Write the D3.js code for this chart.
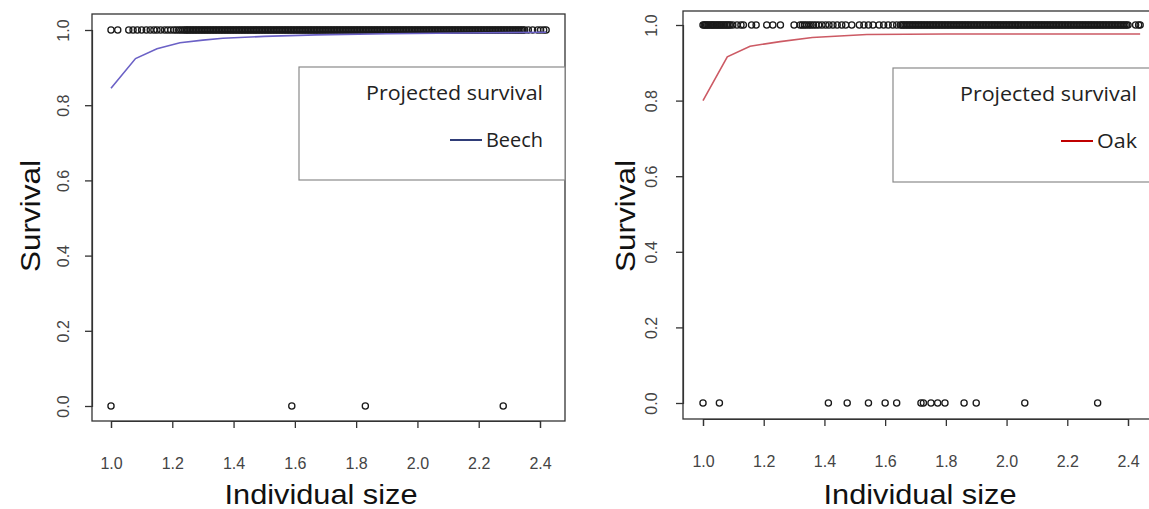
<!DOCTYPE html>
<html><head><meta charset="utf-8">
<script src="https://cdn.jsdelivr.net/npm/d3@7"></script>
<style>body{margin:0;background:#fff}svg{display:block}</style>
</head><body>
<svg id="chart" width="1149" height="509"></svg>
<script>
// ---- data ----
const xTicks = [1.0, 1.2, 1.4, 1.6, 1.8, 2.0, 2.2, 2.4];
const yTicks = [0.0, 0.2, 0.4, 0.6, 0.8, 1.0];
const legendTitle = "Projected survival";

// Beech: observed individuals that survived (y = 1) and died (y = 0)
const beechSurvived = [1.000,1.022,1.058,1.072,1.086,1.100,1.115,1.128,1.140,1.150,1.162,1.175,1.185,1.195,1.205,1.213,1.221,1.228,1.235,1.241,1.246,
1.250,1.255,1.260,1.265,1.270,1.275,1.280,1.285,1.290,1.295,
1.300,1.305,1.310,1.315,1.320,1.325,1.330,1.335,1.340,1.345,1.350,1.355,1.360,1.365,1.370,1.375,1.380,1.385,1.390,1.395,
1.400,1.405,1.410,1.415,1.420,1.425,1.430,1.435,1.440,1.445,1.450,1.455,1.460,1.465,1.470,1.475,1.480,1.485,1.490,1.495,
1.500,1.505,1.510,1.515,1.520,1.525,1.530,1.535,1.540,1.545,1.550,1.555,1.560,1.565,1.570,1.575,1.580,1.585,1.590,1.595,
1.600,1.605,1.610,1.615,1.620,1.625,1.630,1.635,1.640,1.645,1.650,1.655,1.660,1.665,1.670,1.675,1.680,1.685,1.690,1.695,
1.700,1.705,1.710,1.715,1.720,1.725,1.730,1.735,1.740,1.745,1.750,1.755,1.760,1.765,1.770,1.775,1.780,1.785,1.790,1.795,
1.800,1.805,1.810,1.815,1.820,1.825,1.830,1.835,1.840,1.845,1.850,1.855,1.860,1.865,1.870,1.875,1.880,1.885,1.890,1.895,
1.900,1.905,1.910,1.915,1.920,1.925,1.930,1.935,1.940,1.945,1.950,1.955,1.960,1.965,1.970,1.975,1.980,1.985,1.990,1.995,
2.000,2.005,2.010,2.015,2.020,2.025,2.030,2.035,2.040,2.045,2.050,2.055,2.060,2.065,2.070,2.075,2.080,2.085,2.090,2.095,
2.100,2.105,2.110,2.115,2.120,2.125,2.130,2.135,2.140,2.145,2.150,2.155,2.160,2.165,2.170,2.175,2.180,2.185,2.190,2.195,
2.200,2.205,2.210,2.215,2.220,2.225,2.230,2.235,2.240,2.245,2.250,2.255,2.260,2.265,2.270,2.275,2.280,2.285,2.290,2.295,
2.300,2.305,2.310,2.315,2.320,2.325,2.330,2.335,2.340,2.345,2.350,
2.362,2.376,2.392,2.402,2.412,2.420];
const beechDied = [1.00, 1.59, 1.83, 2.28];
const beechCurveX = [1.00, 1.08, 1.15, 1.225, 1.30, 1.365, 1.50, 1.67, 1.90, 2.15, 2.42];
const beechCurveY = [0.845, 0.924, 0.950, 0.966, 0.973, 0.978, 0.983, 0.987, 0.990, 0.992, 0.994];

// Oak
const oakSurvived = [1.000,1.004,1.008,1.012,1.016,1.020,1.025,1.029,1.033,1.037,1.042,1.046,1.050,1.055,1.059,1.063,1.068,1.072,1.077,1.081,1.086,1.090,
1.098,1.112,1.125,1.133,1.160,1.175,1.210,1.230,1.255,1.300,1.320,1.327,1.334,1.341,1.349,1.356,1.364,1.372,1.381,1.392,1.404,1.415,1.428,1.442,1.457,1.470,
1.490,1.515,1.530,1.545,1.560,1.580,1.595,1.610,1.625,1.638,
1.650,1.655,1.660,1.665,1.670,1.675,1.680,1.685,1.690,1.695,
1.700,1.705,1.710,1.715,1.720,1.725,1.730,1.735,1.740,1.745,1.750,1.755,1.760,1.765,1.770,1.775,1.780,1.785,1.790,1.795,
1.800,1.805,1.810,1.815,1.820,1.825,1.830,1.835,1.840,1.845,1.850,1.855,1.860,1.865,1.870,1.875,1.880,1.885,1.890,1.895,
1.900,1.905,1.910,1.915,1.920,1.925,1.930,1.935,1.940,1.945,1.950,1.955,1.960,1.965,1.970,1.975,1.980,1.985,1.990,1.995,
2.000,2.005,2.010,2.015,2.020,2.025,2.030,2.035,2.040,2.045,2.050,2.055,2.060,2.065,2.070,2.075,2.080,2.085,2.090,2.095,
2.100,2.105,2.110,2.115,2.120,2.125,2.130,2.135,2.140,2.145,2.150,2.155,2.160,2.165,2.170,2.175,2.180,2.185,2.190,2.195,
2.200,2.205,2.210,2.215,2.220,2.225,2.230,2.235,2.240,2.245,2.250,2.255,2.260,2.265,2.270,2.275,2.280,2.285,2.290,2.295,
2.300,2.305,2.310,2.315,2.320,2.325,2.330,2.335,2.340,2.345,2.350,2.355,2.360,2.365,2.370,2.375,2.380,2.385,2.390,2.395,
2.400,2.425,2.435,2.440];
const oakDied = [1.00, 1.054, 1.413, 1.475, 1.545, 1.60, 1.638, 1.718, 1.726, 1.751, 1.773, 1.797, 1.86, 1.90, 2.06, 2.30];
const oakCurveX = [1.00, 1.08, 1.155, 1.254, 1.36, 1.54, 1.80, 2.10, 2.44];
const oakCurveY = [0.80, 0.916, 0.944, 0.956, 0.967, 0.975, 0.976, 0.976, 0.976];

// ---- drawing ----
const svg = d3.select("#chart");
const FONT = "Liberation Sans, Arial, sans-serif";
const LEGFONT = "Open Sans, sans-serif";

const panels = [
  {name: "Beech", survived: beechSurvived, died: beechDied, cx: beechCurveX, cy: beechCurveY,
   box: {l: 92, r: 565, t: 14, b: 421}, xr: [111, 540], yr: [406, 30],
   lineColor: "#6b61c6", legColor: "#2f3d78", nameLen: 57,
   legend: {l: 299, r: 565, t: 67, b: 180, tx: 543}, yLabX: 63, survX: 30, titleX: 321},
  {name: "Oak", survived: oakSurvived, died: oakDied, cx: oakCurveX, cy: oakCurveY,
   box: {l: 683, r: 1158, t: 11, b: 419}, xr: [703, 1128], yr: [403, 25],
   lineColor: "#cc5a64", legColor: "#c00000", nameLen: 40,
   legend: {l: 893, r: 1158, t: 68, b: 182, tx: 1137}, yLabX: 651, survX: 625, titleX: 920}
];

panels.forEach(p => {
  const g = svg.append("g");
  const x = d3.scaleLinear().domain([1.0, 2.4]).range(p.xr);
  const y = d3.scaleLinear().domain([0, 1]).range(p.yr);

  // points
  const pts = p.survived.map(v => [v, 1]).concat(p.died.map(v => [v, 0]));
  g.append("g").selectAll("circle").data(pts).join("circle")
    .attr("cx", d => x(d[0])).attr("cy", d => y(d[1])).attr("r", 3.1)
    .attr("fill", "none").attr("stroke", "#1a1a1a").attr("stroke-width", 1.3);

  // fitted curve
  const line = d3.line().x(d => x(d[0])).y(d => y(d[1]));
  g.append("path").datum(p.cx.map((v, i) => [v, p.cy[i]]))
    .attr("d", line).attr("fill", "none").attr("stroke", p.lineColor).attr("stroke-width", 1.6);

  // box
  g.append("rect").attr("x", p.box.l).attr("y", p.box.t)
    .attr("width", p.box.r - p.box.l).attr("height", p.box.b - p.box.t)
    .attr("fill", "none").attr("stroke", "#333").attr("stroke-width", 1.3);

  // x axis
  const xa = g.append("g").attr("transform", `translate(0,${p.box.b})`)
    .call(d3.axisBottom(x).tickValues(xTicks).tickFormat(d3.format(".1f")).tickSize(7));
  xa.select(".domain").attr("stroke", "#333").attr("stroke-width", 1.2);
  xa.selectAll(".tick line").attr("stroke", "#333").attr("stroke-width", 1.3);
  xa.selectAll(".tick text").attr("y", 42).attr("dy", "0.35em")
    .attr("font-family", FONT).attr("font-size", 16).attr("fill", "#444");

  // y axis
  const ya = g.append("g").attr("transform", `translate(${p.box.l},0)`)
    .call(d3.axisLeft(y).tickValues(yTicks).tickFormat(d3.format(".1f")).tickSize(7));
  ya.select(".domain").attr("stroke", "#333").attr("stroke-width", 1.2);
  ya.selectAll(".tick line").attr("stroke", "#333").attr("stroke-width", 1.3);
  ya.selectAll(".tick text").attr("transform", "rotate(-90)")
    .attr("x", 0).attr("y", -(p.box.l - p.yLabX)).attr("dy", "0.35em")
    .attr("text-anchor", "middle")
    .attr("font-family", FONT).attr("font-size", 16).attr("fill", "#444");

  // axis titles
  g.append("text").attr("transform", `translate(${p.survX},216) rotate(-90)`)
    .attr("text-anchor", "middle").attr("dy", "0.35em")
    .attr("font-family", FONT).attr("font-size", 28).attr("fill", "#111")
    .attr("textLength", 112).attr("lengthAdjust", "spacingAndGlyphs")
    .text("Survival");
  g.append("text").attr("x", p.titleX).attr("y", 494).attr("dy", "0.35em")
    .attr("text-anchor", "middle")
    .attr("font-family", FONT).attr("font-size", 28).attr("fill", "#111")
    .attr("textLength", 193).attr("lengthAdjust", "spacingAndGlyphs")
    .text("Individual size");

  // legend
  const L = p.legend;
  g.append("rect").attr("x", L.l).attr("y", L.t).attr("width", L.r - L.l).attr("height", L.b - L.t)
    .attr("fill", "#fff").attr("stroke", "#8a8a8a").attr("stroke-width", 1.2);
  g.append("text").attr("x", L.tx).attr("y", L.t + 33).attr("text-anchor", "end")
    .attr("font-family", LEGFONT).attr("font-size", 20).attr("fill", "#222")
    .attr("textLength", 177).attr("lengthAdjust", "spacingAndGlyphs")
    .text(legendTitle);
  g.append("text").attr("x", L.tx).attr("y", L.t + 80).attr("text-anchor", "end")
    .attr("font-family", LEGFONT).attr("font-size", 20).attr("fill", "#222")
    .attr("textLength", p.nameLen).attr("lengthAdjust", "spacingAndGlyphs")
    .text(p.name);
  g.append("line").attr("x1", L.tx - p.nameLen - 36).attr("x2", L.tx - p.nameLen - 4)
    .attr("y1", L.t + 73).attr("y2", L.t + 73)
    .attr("stroke", p.legColor).attr("stroke-width", 2);
});
</script>
</body></html>
